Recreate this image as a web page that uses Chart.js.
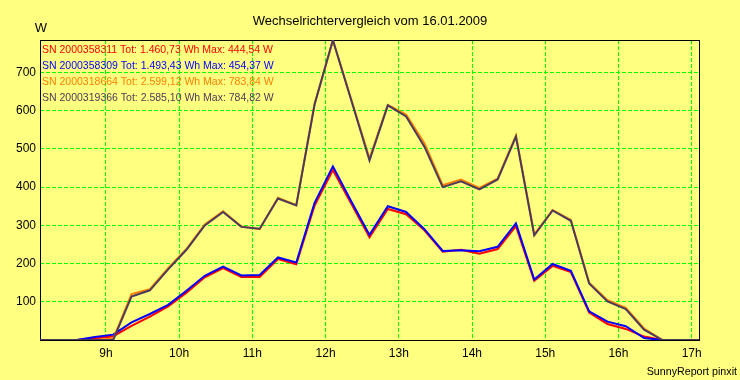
<!DOCTYPE html>
<html>
<head>
<meta charset="utf-8">
<script src="https://cdn.jsdelivr.net/npm/chart.js@4.4.1/dist/chart.umd.min.js"></script>
<style>
    html, body { margin: 0; padding: 0; background: #ffff80; }
    #wrap { width: 740px; height: 380px; }
</style>
</head>
<body>
<div id="wrap"><canvas id="chart" width="740" height="380"></canvas></div>
<script>
// --- Data (15 minute steps) ---
const times = [
    '08:06', '08:21', '08:36', '08:51', '09:06', '09:21', '09:36', '09:51',
    '10:06', '10:21', '10:36', '10:51', '11:06', '11:21', '11:36', '11:51',
    '12:06', '12:21', '12:36', '12:51', '13:06', '13:21', '13:36', '13:51',
    '14:06', '14:21', '14:36', '14:51', '15:06', '15:21', '15:36', '15:51',
    '16:06', '16:21', '16:36', '16:51', '17:06'
];

const redVals = [0, 0, 0, 4, 10, 37, 61, 88, 124, 164, 188, 165, 165, 212, 198, 352,
    444.54, 357, 269, 343, 329, 287, 231, 236, 226, 238, 298, 155, 194, 178, 72, 42, 29, 9, 0, 0, 0];
const blueVals = [0, 0, 0, 8, 14, 46, 68, 92, 129, 168, 192, 169, 170, 216, 203, 359,
    454.37, 363, 275, 350, 335, 290, 233, 235, 232, 244, 305, 158, 199, 181, 75, 48, 36, 5, 0, 0, 0];
const orangeVals = [0, 0, 0, 0, 3, 120, 133, 188, 238, 302, 337, 297, 290, 372, 353, 618,
    783.84, 630, 475, 615, 590, 515, 405, 420, 398, 422, 535, 276, 340, 314, 150, 104, 84, 30, 0, 0, 0];
const darkVals = [0, 0, 0, 0, 0, 114, 130, 185, 236, 300, 335, 296, 291, 370, 352, 616,
    784.82, 628, 470, 614, 585, 506, 400, 415, 394, 420, 532, 274, 339, 312, 148, 101, 81, 27, 0, 0, 0];

const serials = ['2000358311', '2000358309', '2000318664', '2000319366'];
const totals = ['1.460,73', '1.493,43', '2.599,12', '2.585,10'];
const maxima = ['444,54', '454,37', '783,84', '784,82'];
const colors = ['#ff0000', '#0000ff', '#ff8000', '#4b3a5c'];

const hourTicks = [9, 10, 11, 12, 13, 14, 15, 16, 17];
const wattTicks = [100, 200, 300, 400, 500, 600, 700];

const FONT = "'Liberation Sans', Arial, sans-serif";

function toHours(t) {
    const parts = t.split(':').map(Number);
    return parts[0] + parts[1] / 60;
}

function points(vals) {
    return vals.map((v, i) => ({ x: toHours(times[i]), y: v }));
}

// --- Texts and frame drawn on the canvas ---
const reportDecor = {
    id: 'reportDecor',
    beforeDatasetsDraw(chart) {
        const ctx = chart.ctx;
        const area = chart.chartArea;
        ctx.save();

        // frame round the plot
        ctx.strokeStyle = '#000000';
        ctx.lineWidth = 1;
        ctx.strokeRect(area.left + 0.5, area.top + 0.5, area.right - area.left, area.bottom - area.top);

        // legend lines inside the plot
        ctx.font = '10.5px ' + FONT;
        ctx.textAlign = 'left';
        ctx.textBaseline = 'alphabetic';
        serials.forEach((sn, i) => {
            ctx.fillStyle = colors[i];
            ctx.fillText('SN ' + sn + ' Tot: ' + totals[i] + ' Wh Max: ' + maxima[i] + ' W', 42, 53 + i * 16);
        });

        // title, unit and footer
        ctx.fillStyle = '#000000';
        ctx.font = '13px ' + FONT;
        ctx.textAlign = 'center';
        ctx.fillText('Wechselrichtervergleich vom 16.01.2009', 370, 25);
        ctx.fillText('W', 41, 32);

        ctx.font = '10.7px ' + FONT;
        ctx.textAlign = 'right';
        ctx.fillText('SunnyReport pinxit', 737, 375);
        ctx.restore();
    }
};

const chartCanvas = document.getElementById('chart');

const datasets = [redVals, blueVals, orangeVals, darkVals].map((vals, i) => ({
    label: 'SN ' + serials[i],
    data: points(vals),
    borderColor: colors[i],
    backgroundColor: colors[i],
    borderWidth: 2,
    pointRadius: 0,
    tension: 0,
    order: 3 - i // later series on top
}));

new Chart(chartCanvas, {
    type: 'line',
    data: { datasets: datasets },
    options: {
        responsive: false,
        animation: false,
        devicePixelRatio: 1,
        layout: { padding: { top: 40, right: 41, left: 0, bottom: 0 } },
        plugins: {
            legend: { display: false },
            tooltip: { enabled: false },
            title: { display: false }
        },
        scales: {
            x: {
                type: 'linear',
                min: 8.1,
                max: 17.1,
                afterBuildTicks: scale => { scale.ticks = hourTicks.map(v => ({ value: v })); },
                afterFit: scale => { scale.height = 40; },
                grid: { color: '#00ff00', lineWidth: 1, drawTicks: false },
                border: { display: false, dash: [4, 2] },
                ticks: {
                    color: '#000000',
                    font: { family: FONT, size: 12 },
                    padding: 6,
                    maxRotation: 0,
                    callback: v => v + 'h'
                }
            },
            y: {
                min: 0,
                max: 785,
                afterBuildTicks: scale => { scale.ticks = wattTicks.map(v => ({ value: v })); },
                afterFit: scale => { scale.width = 40; },
                grid: { color: '#00ff00', lineWidth: 1, drawTicks: false },
                border: { display: false, dash: [4, 2] },
                ticks: {
                    color: '#000000',
                    font: { family: FONT, size: 12 },
                    padding: 4
                }
            }
        }
    },
    plugins: [reportDecor]
});
</script>
</body>
</html>
